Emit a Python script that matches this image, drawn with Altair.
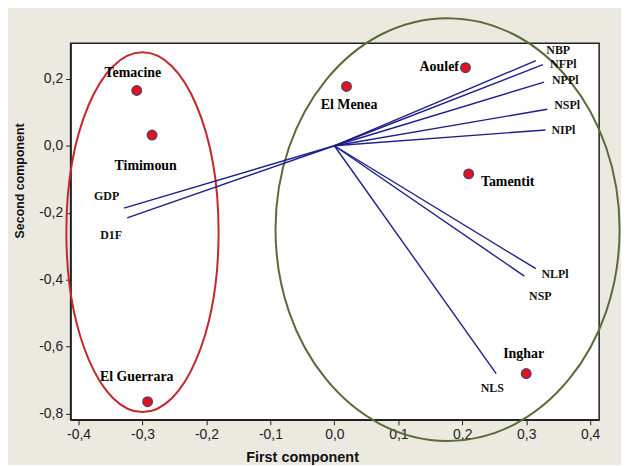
import altair as alt
import pandas as pd

# ---- data ----
sites = ["Temacine", "Timimoun", "El Guerrara", "El Menea", "Aoulef", "Tamentit", "Inghar"]
site_pc1 = [-0.309, -0.285, -0.292, 0.019, 0.205, 0.210, 0.300]
site_pc2 = [0.165, 0.032, -0.764, 0.177, 0.233, -0.084, -0.680]
site_lab_x = [-0.315, -0.295, -0.309, 0.023, 0.164, 0.271, 0.296]
site_lab_y = [0.218, -0.060, -0.690, 0.121, 0.236, -0.109, -0.623]

variables = ["GDP", "D1F", "NBP", "NFPl", "NPPl", "NSPl", "NIPl", "NLPl", "NSP", "NLS"]
var_pc1 = [-0.329, -0.324, 0.315, 0.326, 0.328, 0.333, 0.330, 0.315, 0.297, 0.253]
var_pc2 = [-0.186, -0.215, 0.254, 0.242, 0.190, 0.109, 0.047, -0.367, -0.389, -0.680]
var_lab_x = [-0.356, -0.349, 0.350, 0.358, 0.361, 0.364, 0.358, 0.345, 0.322, 0.247]
var_lab_y = [-0.151, -0.266, 0.287, 0.245, 0.195, 0.121, 0.047, -0.382, -0.448, -0.723]

# group ellipses (centre and semi-axes in data units)
ell_cx = [-0.300, 0.177]
ell_cy = [-0.258, -0.250]
ell_rx = [0.119, 0.269]
ell_ry = [0.537, 0.631]
ell_col = ["#c3282f", "#5b6a3a"]

x_ticks = [-0.4, -0.3, -0.2, -0.1, 0.0, 0.1, 0.2, 0.3, 0.4]
y_ticks = [-0.8, -0.6, -0.4, -0.2, 0.0, 0.2]

# ---- layout ----
W, H = 532, 379
XDOM = [-0.4124, 0.414]
YDOM = [-0.818, 0.306]
xs = alt.Scale(domain=XDOM, nice=False, zero=False)
ys = alt.Scale(domain=YDOM, nice=False, zero=False)
lab = "replace(replace(format(datum.value, '.1f'), '.', ','), '\u2212', '-')"

x_axis = alt.Axis(values=x_ticks, labelExpr=lab, title="First component",
                  titleX=233, titleY=38, titleBaseline="middle", titleAlign="center")
y_axis = alt.Axis(values=y_ticks, labelExpr=lab, title="Second component",
                  titleX=-51, titleY=138, titleBaseline="middle", titleAlign="center")


def X(f):
    return alt.X(f, scale=xs, axis=x_axis, title="First component")


def Y(f):
    return alt.Y(f, scale=ys, axis=y_axis, title="Second component")


site_df = pd.DataFrame({"site": sites, "pc1": site_pc1, "pc2": site_pc2,
                        "lx": site_lab_x, "ly": site_lab_y})
var_df = pd.DataFrame({"var": variables, "pc1": var_pc1, "pc2": var_pc2,
                       "lx": var_lab_x, "ly": var_lab_y})
var_df["x0"] = 0.0
var_df["y0"] = 0.0

px_x = W / (XDOM[1] - XDOM[0])
px_y = H / (YDOM[1] - YDOM[0])

layers = []
for cx, cy, rx, ry, col in zip(ell_cx, ell_cy, ell_rx, ell_ry, ell_col):
    rxp, ryp = rx * px_x, ry * px_y
    R = max(rxp, ryp)
    a, b = rxp / R, ryp / R
    path = (f"M {-a:.4f} 0 A {a:.4f} {b:.4f} 0 1 0 {a:.4f} 0 "
            f"A {a:.4f} {b:.4f} 0 1 0 {-a:.4f} 0 Z")
    edf = pd.DataFrame({"cx": [cx], "cy": [cy]})
    layers.append(
        alt.Chart(edf).mark_point(shape=path, size=(2 * R) ** 2, filled=False,
                                  stroke=col, strokeWidth=2, opacity=1)
        .encode(x=X("cx:Q"), y=Y("cy:Q"))
    )

rules = alt.Chart(var_df).mark_rule(color="#1e1e8a", strokeWidth=1.4).encode(
    x=X("x0:Q"), y=Y("y0:Q"), x2="pc1:Q", y2="pc2:Q",
)

pts = alt.Chart(site_df).mark_point(filled=True, fill="#e3121b", stroke="#5c3a66",
                                    strokeWidth=1.5, size=90, opacity=1).encode(
    x=X("pc1:Q"), y=Y("pc2:Q"))

site_txt = alt.Chart(site_df).mark_text(font="Liberation Serif", fontWeight="bold",
                                        fontSize=14, color="#000").encode(
    x=X("lx:Q"), y=Y("ly:Q"), text="site:N")

var_txt = alt.Chart(var_df).mark_text(font="Liberation Serif", fontWeight="bold",
                                      fontSize=12, color="#111").encode(
    x=X("lx:Q"), y=Y("ly:Q"), text="var:N")

chart = alt.layer(*layers, rules, pts, site_txt, var_txt).properties(
    width=W, height=H,
    autosize=alt.AutoSizeParams(type="none"),
    padding={"left": 63, "top": 34, "right": 22, "bottom": 44},
    background="#ece9e1",
).configure_view(
    fill="white", stroke="#222", strokeWidth=1.5
).configure_axis(
    grid=False, domainColor="#222", tickColor="#222", tickSize=5, domainWidth=1.5,
    labelFont="Liberation Sans", labelFontSize=14, labelColor="#222", labelPadding=3,
    titleFont="Liberation Sans", titleFontWeight="bold", titleColor="#111",
).configure_axisX(titleFontSize=14.5).configure_axisY(titleFontSize=12.5)

chart.save("out.html", embed_options={"renderer": "svg", "actions": False})
